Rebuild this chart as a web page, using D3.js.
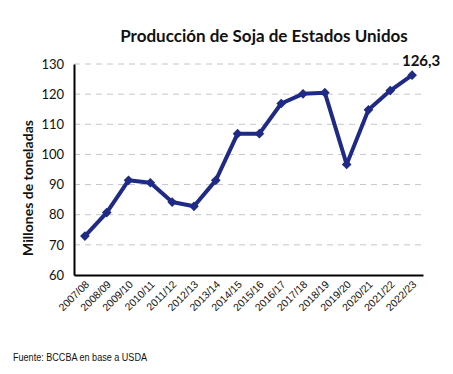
<!DOCTYPE html>
<html>
<head>
<meta charset="utf-8">
<script src="https://cdn.jsdelivr.net/npm/d3@7"></script>
<style>
  body { margin: 0; background: #fff; }
</style>
</head>
<body>
<script>
var campaigns = ["2007/08", "2008/09", "2009/10", "2010/11", "2011/12", "2012/13", "2013/14", "2014/15",
                 "2015/16", "2016/17", "2017/18", "2018/19", "2019/20", "2020/21", "2021/22", "2022/23"];
var production = [72.9, 80.7, 91.4, 90.6, 84.2, 82.8, 91.4, 106.9, 106.9, 116.9, 120.1, 120.5, 96.7, 114.8, 121.2, 126.3];
var yTicks = [60, 70, 80, 90, 100, 110, 120, 130];

var chartWidth = 453, chartHeight = 374;
var plotLeft = 74, plotRight = 423, plotTop = 64, plotBottom = 275;
var lineColor = "#1f2a86";

var svg = d3.select("body").append("svg")
    .attr("width", chartWidth)
    .attr("height", chartHeight)
    .style("font-family", "Lato, 'Open Sans', sans-serif");

var x = d3.scaleBand().domain(campaigns).range([plotLeft, plotRight]);
var y = d3.scaleLinear().domain([60, 130]).range([plotBottom, plotTop]);

// grid
svg.append("g").selectAll("line")
    .data(yTicks.filter(function (t) { return t > 60; }))
    .join("line")
    .attr("x1", plotLeft).attr("x2", plotRight)
    .attr("y1", function (d) { return y(d); }).attr("y2", function (d) { return y(d); })
    .attr("stroke", "#c6c6c6")
    .attr("stroke-width", 1)
    .attr("stroke-dasharray", "6,5");

// y axis
var yAxis = svg.append("g")
    .attr("transform", "translate(" + plotLeft + ",0)")
    .call(d3.axisLeft(y).tickValues(yTicks).tickSize(0).tickPadding(10));
yAxis.select(".domain").attr("stroke", "#000").attr("stroke-width", 2);
yAxis.selectAll("text").attr("font-size", 13).attr("fill", "#111").style("font-family", "Lato, sans-serif");

// x axis
var xAxis = svg.append("g")
    .attr("transform", "translate(0," + plotBottom + ")")
    .call(d3.axisBottom(x).tickSize(0).tickPadding(0));
xAxis.select(".domain").attr("stroke", "#000").attr("stroke-width", 2);
xAxis.selectAll("text")
    .attr("font-size", 10.5)
    .attr("fill", "#111")
    .attr("text-anchor", "end")
    .attr("dy", 0)
    .attr("transform", "translate(5,10) rotate(-45)");

// line
var line = d3.line()
    .x(function (d, i) { return x(campaigns[i]) + x.bandwidth() / 2; })
    .y(function (d) { return y(d); });

svg.append("path")
    .datum(production)
    .attr("d", line)
    .attr("fill", "none")
    .attr("stroke", lineColor)
    .attr("stroke-width", 4)
    .attr("stroke-linejoin", "round");

svg.append("g").selectAll("path")
    .data(production)
    .join("path")
    .attr("d", d3.symbol().type(d3.symbolDiamond2).size(60))
    .attr("transform", function (d, i) {
        return "translate(" + (x(campaigns[i]) + x.bandwidth() / 2) + "," + y(d) + ")";
    })
    .attr("fill", lineColor);

// last value label
var lastIdx = production.length - 1;
svg.append("text")
    .attr("x", x(campaigns[lastIdx]) + x.bandwidth() / 2 + 9)
    .attr("y", y(production[lastIdx]) - 9)
    .attr("text-anchor", "middle")
    .attr("font-size", 15)
    .attr("font-weight", "bold")
    .attr("fill", "#111")
    .text(String(production[lastIdx]).replace(".", ","));

// title
svg.append("text")
    .attr("x", 264)
    .attr("y", 42)
    .attr("text-anchor", "middle")
    .attr("font-size", 17)
    .attr("font-weight", "bold")
    .attr("fill", "#111")
    .text("Producción de Soja de Estados Unidos");

// y title
svg.append("text")
    .attr("transform", "translate(33,188) rotate(-90)")
    .attr("text-anchor", "middle")
    .attr("font-size", 14)
    .attr("font-weight", "bold")
    .attr("fill", "#111")
    .text("Millones de toneladas");

// source
svg.append("text")
    .attr("x", 13)
    .attr("y", 361)
    .attr("font-size", 10)
    .attr("fill", "#111")
    .attr("textLength", 134)
    .attr("lengthAdjust", "spacingAndGlyphs")
    .style("font-family", "'Liberation Sans', sans-serif")
    .text("Fuente: BCCBA en base a USDA");
</script>
</body>
</html>
